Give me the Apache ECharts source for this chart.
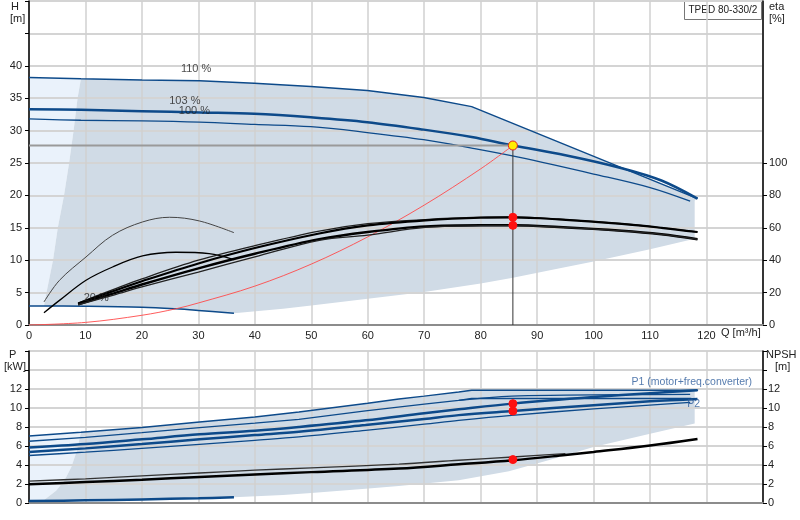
<!DOCTYPE html>
<html>
<head>
<meta charset="utf-8">
<script src="https://cdn.jsdelivr.net/npm/echarts@6/dist/echarts.min.js"></script>
<style>
  html, body { margin: 0; padding: 0; background: #fff; }
  #chart { width: 800px; height: 520px; }
</style>
</head>
<body>
<div id="chart"></div>
<script>
// tick labels
var qLabels = [0, 10, 20, 30, 40, 50, 60, 70, 80, 90, 100, 110, 120];
var hLabels = [0, 5, 10, 15, 20, 25, 30, 35, 40];
var etaLabels = [0, 20, 40, 60, 80, 100];
var pLabels = [0, 2, 4, 6, 8, 10, 12];

// Q-H curves [Q m3/h, H m]
var h110 = [[0, 38.2], [9.2, 38.0], [20, 37.8], [30.2, 37.7], [39.9, 37.3], [49.9, 36.8], [59.9, 36.2], [69.9, 35.1], [78.4, 33.7], [118.4, 19.5]];
var h103 = [[0, 33.3], [9.2, 33.2], [20, 33.0], [30.2, 32.8], [39.9, 32.6], [49.9, 32.05], [59.9, 31.3], [69.9, 30.15], [78.4, 29.0], [85.7, 27.7], [95, 26.2], [105, 24.2], [112, 22.3], [118.4, 19.5]];
var h100 = [[0, 31.8], [9.2, 31.6], [20, 31.5], [30.2, 31.3], [40, 30.95], [49.9, 30.6], [59.9, 29.7], [69.9, 28.6], [78.4, 27.3], [86.7, 25.9], [100, 23.3], [110, 21.2], [117.1, 19.1]];
var h20 = [[0, 2.95], [10, 2.9], [20, 2.75], [26, 2.5], [30, 2.25], [36.3, 1.8]];
var hSystem = [[0, 0], [10, 0.4], [20, 1.5], [26, 2.5], [30, 3.4], [40, 6.0], [50, 9.4], [60, 13.6], [70, 18.5], [80, 24.1], [85.7, 27.7]];

// efficiency curves [Q, eta %]
var etaLow1 = [[2.65, 14.2], [5.4, 27.6], [10.1, 42], [14.8, 55.4], [20.1, 63.6], [24.9, 66.5], [30.2, 64.2], [36.3, 57]];
var etaLow2 = [[2.65, 7.6], [5.4, 15.2], [10.1, 27.6], [14.8, 35.8], [20.1, 42.6], [26, 44.9], [31.9, 44.1], [36.3, 40.4]];
var etaA = [[8.7, 13.5], [15, 22], [20, 28.5], [30, 40], [40, 49], [51.4, 58], [60, 62.6], [70.2, 65.1], [80, 66.5], [85.7, 66.7], [93.8, 65.4], [105, 62.5], [112, 60], [118.4, 57.4]];
var etaB = [[8.7, 13.2], [15, 21], [20, 27], [30, 38], [40, 47.5], [51.4, 56.5], [60, 61.5], [70.2, 64.6], [80, 66.2], [85.7, 66.4], [93.8, 65.2], [105, 62.4], [112, 60], [118.4, 57.4]];
var etaC = [[8.7, 12.8], [15, 19.5], [20, 25], [30, 35], [40, 44], [51.4, 53], [60, 57.4], [70.2, 60.9], [80, 61.6], [85.7, 61.6], [93.8, 60.5], [105, 58.2], [112, 56], [118.4, 52.9]];
var etaD = [[8.7, 12.5], [15, 18.5], [20, 23.5], [30, 32.7], [40, 42], [51.4, 52.3], [60, 55.5], [70.2, 60.2], [80, 61.3], [85.7, 61.4], [93.8, 60.4], [105, 58.1], [112, 56], [118.4, 52.9]];

// shaded operating range, upper chart
var shadeLeftTop = [[2.65, 2.9], [3.1, 5], [4.25, 10], [5.1, 15], [6.2, 20], [7.1, 25], [7.9, 30], [8.6, 35], [9.2, 38.0]];
var shadeLowTop = [[36.3, 1.8], [45, 2.5], [50, 3.0], [60, 4.05], [70, 5.1], [80, 6.4], [85.7, 7.3], [93.8, 8.7], [100, 9.8], [110, 11.7], [117.9, 13.3]];

// power curves [Q, kW]
var p1_110 = [[0, 7.05], [9.2, 7.45], [20, 7.95], [30.2, 8.53], [40, 9.05], [47.8, 9.58], [60, 10.5], [65.5, 10.95], [70, 11.25], [76.1, 11.68], [78.4, 11.86], [118.5, 11.86]];
var p2_110 = [[0, 6.5], [10, 6.9], [20, 7.4], [30.2, 7.93], [40, 8.4], [47.8, 8.8], [59.6, 9.7], [70, 10.4], [76.1, 10.8], [78.4, 11.0], [117.3, 11.0]];
var p1_100 = [[76.1, 10.8], [85.5, 11.25], [95, 11.35], [105, 11.4], [117.1, 11.44]];
var p1_103 = [[0, 5.83], [10, 6.2], [20, 6.7], [30.2, 7.23], [40, 7.6], [47.8, 8.0], [59.6, 8.7], [70, 9.45], [76.1, 9.86], [85.7, 10.46], [100, 11.15], [110, 11.55], [118.4, 11.86]];
var p2_103 = [[0, 5.37], [10, 5.75], [20, 6.2], [30.2, 6.7], [40, 7.15], [47.8, 7.5], [59.6, 8.2], [70, 8.85], [76.1, 9.25], [85.7, 9.68], [100, 10.3], [110, 10.7], [118.4, 10.95]];
var p2_100 = [[0, 5.0], [10, 5.35], [20, 5.75], [30.2, 6.18], [40, 6.6], [47.8, 6.95], [59.6, 7.65], [70, 8.3], [76.1, 8.7], [85.5, 9.23], [100, 9.9], [117.1, 10.6]];
var p20 = [[0, 0.2], [10, 0.28], [20, 0.38], [30, 0.5], [36.3, 0.6]];

// NPSH curves [Q, m]
var npshA = [[0, 2.3], [10, 2.55], [20, 2.85], [30.2, 3.16], [40, 3.45], [50, 3.7], [65.5, 4.1], [76.1, 4.5], [85.7, 4.84], [95, 5.2]];
var npshB = [[0, 1.97], [10, 2.2], [20, 2.45], [30.2, 2.74], [40, 3.0], [50, 3.25], [65.5, 3.62], [76.1, 4.07], [85.7, 4.5], [95, 5.05], [100, 5.37], [110, 6.05], [118.4, 6.74]];

// shaded range, lower chart
var shadeLeftBot = [[2.5, 0.25], [4.8, 1.3], [6.3, 2.4], [7.5, 3.8], [8.5, 5.55], [9.2, 7.45]];
var shadeLowBot = [[36.3, 0.6], [45, 0.85], [50, 1.05], [59.6, 1.5], [65.5, 1.8], [76.1, 2.4], [85, 3.35], [92, 4.5], [100, 5.9], [110, 7.3], [117.9, 8.36]];

// duty point
var dutyQ = 85.7;
var dutyH = 27.7;
var dutyEta = [66.5, 61.5];
var dutyP = [10.46, 9.68];
var dutyNpsh = 4.57;

// curve captions [Q, value, text]
var topCaptions = [[29.6, 39.5, '110 %'], [27.6, 34.6, '103 %'], [29.3, 33.0, '100 %'], [11.9, 4.2, '20 %']];
var botCaptions = [[117.4, 12.74, 'P1 (motor+freq.converter)'], [117.7, 10.36, 'P2']];

var BLUE = '#0d4a8a';
var FONT = 'Liberation Sans';
var FS = 11;

function rev(a) { return a.slice().reverse(); }

var lightTop = [[0, 2.95], [0, 38.2]].concat(rev(shadeLeftTop));
var darkTop = shadeLeftTop
  .concat(h110.slice(2))
  .concat([[117.9, 19.2]])
  .concat(rev(shadeLowTop))
  .concat(rev(h20.slice(1, 5)));
var lightBot = [[0, 0], [0, 7.05]].concat(rev(shadeLeftBot)).concat([[2.5, 0]]);
var darkBot = shadeLeftBot
  .concat(p1_110.slice(2, 11))
  .concat([[117.9, 11.86]])
  .concat(rev(shadeLowBot))
  .concat(rev(p20.slice(1, 4)));

function poly(pts, color, xi, yi) {
  return {
    type: 'custom', xAxisIndex: xi, yAxisIndex: yi, z: 0, silent: true,
    data: [pts[0]],
    renderItem: function (params, api) {
      return {
        type: 'polygon',
        shape: { points: pts.map(function (p) { return api.coord(p); }) },
        style: { fill: color }
      };
    }
  };
}

function line(data, color, width, xi, yi, smooth) {
  return {
    type: 'line', data: data, xAxisIndex: xi, yAxisIndex: yi,
    symbol: 'none', smooth: smooth === undefined ? 0.35 : smooth,
    lineStyle: { color: color, width: width }, z: 3, silent: true
  };
}

function captions(data, color, xi, yi, fs) {
  return {
    type: 'scatter', data: data, xAxisIndex: xi, yAxisIndex: yi, symbolSize: 0, z: 6, silent: true,
    label: {
      show: true, position: 'inside', color: color, fontFamily: FONT, fontSize: fs,
      formatter: function (p) { return p.data[2]; }
    }
  };
}

function dots(data, xi, yi, size, fill, border) {
  return {
    type: 'scatter', data: data, xAxisIndex: xi, yAxisIndex: yi, symbolSize: size, z: 8, silent: true,
    itemStyle: { color: fill, borderColor: border, borderWidth: 1, opacity: 1 }
  };
}

var labelStyle = { color: '#222', fontFamily: FONT, fontSize: FS };
var txt = FS + 'px ' + FONT;

var myChart = echarts.init(document.getElementById('chart'), null, { renderer: 'canvas' });
var option = {
  animation: false,
  backgroundColor: '#fff',
  grid: [
    { left: 29, top: 1, width: 734, height: 324, show: true, borderColor: '#a8a8a8', borderWidth: 1, backgroundColor: 'transparent' },
    { left: 29, top: 351, width: 734, height: 152, show: true, borderColor: '#a8a8a8', borderWidth: 1, backgroundColor: 'transparent' }
  ],
  xAxis: [
    {
      gridIndex: 0, type: 'value', min: 0, max: 130, interval: 10, z: 1,
      axisLine: { lineStyle: { color: '#8c8c8c', width: 2 } },
      axisTick: { show: false },
      axisLabel: Object.assign({ margin: 5, formatter: function (v) { return qLabels.indexOf(v) >= 0 ? v : ''; } }, labelStyle),
      splitLine: { lineStyle: { color: '#d0d0d0', width: 1.5 } }
    },
    {
      gridIndex: 1, type: 'value', min: 0, max: 130, interval: 10, z: 1,
      axisLine: { lineStyle: { color: '#8c8c8c', width: 2 } },
      axisTick: { show: false },
      axisLabel: { show: false },
      splitLine: { lineStyle: { color: '#d0d0d0', width: 1.5 } }
    }
  ],
  yAxis: [
    {
      gridIndex: 0, type: 'value', min: 0, max: 50, interval: 5, position: 'left', z: 1,
      axisLine: { show: true, lineStyle: { color: '#000', width: 1.5 } },
      axisTick: { show: true, length: 4, lineStyle: { color: '#000' } },
      axisLabel: Object.assign({ margin: 7, formatter: function (v) { return hLabels.indexOf(v) >= 0 ? v : ''; } }, labelStyle),
      splitLine: { lineStyle: { color: '#d4d4d4', width: 2 } }
    },
    {
      gridIndex: 0, type: 'value', min: 0, max: 200, interval: 20, position: 'right', z: 1,
      axisLine: { show: true, lineStyle: { color: '#000', width: 1.5 } },
      axisTick: { show: true, length: 4, customValues: etaLabels, lineStyle: { color: '#000' } },
      axisLabel: Object.assign({ margin: 6, customValues: etaLabels, formatter: function (v) { return etaLabels.indexOf(v) >= 0 ? v : ''; } }, labelStyle),
      splitLine: { show: false }
    },
    {
      gridIndex: 1, type: 'value', min: 0, max: 16, interval: 2, position: 'left', z: 1,
      axisLine: { show: true, lineStyle: { color: '#000', width: 1.5 } },
      axisTick: { show: true, length: 4, lineStyle: { color: '#000' } },
      axisLabel: Object.assign({ margin: 7, formatter: function (v) { return pLabels.indexOf(v) >= 0 ? v : ''; } }, labelStyle),
      splitLine: { lineStyle: { color: '#d4d4d4', width: 2 } }
    },
    {
      gridIndex: 1, type: 'value', min: 0, max: 16, interval: 2, position: 'right', z: 1,
      axisLine: { show: true, lineStyle: { color: '#000', width: 1.5 } },
      axisTick: { show: true, length: 4, lineStyle: { color: '#000' } },
      axisLabel: Object.assign({ margin: 5, formatter: function (v) { return pLabels.indexOf(v) >= 0 ? v : ''; } }, labelStyle),
      splitLine: { show: false }
    }
  ],
  graphic: [
    { type: 'text', left: 11, top: 1, style: { text: 'H', font: txt, fill: '#222' } },
    { type: 'text', left: 10, top: 13, style: { text: '[m]', font: txt, fill: '#222' } },
    { type: 'text', left: 769, top: 1, style: { text: 'eta', font: txt, fill: '#222' } },
    { type: 'text', left: 769, top: 13, style: { text: '[%]', font: txt, fill: '#222' } },
    { type: 'text', left: 721, top: 327, style: { text: 'Q [m\u00b3/h]', font: txt, fill: '#222' } },
    { type: 'text', left: 9, top: 349, style: { text: 'P', font: txt, fill: '#222' } },
    { type: 'text', left: 4, top: 361, style: { text: '[kW]', font: txt, fill: '#222' } },
    { type: 'text', left: 766, top: 349, style: { text: 'NPSH', font: txt, fill: '#222' } },
    { type: 'text', left: 775, top: 361, style: { text: '[m]', font: txt, fill: '#222' } },
    {
      type: 'group', left: 684, top: 0, z: 100,
      children: [
        { type: 'rect', shape: { x: 0, y: 0, width: 77, height: 19 }, style: { fill: '#fff', stroke: '#777', lineWidth: 1 } },
        { type: 'text', x: 4, y: 4.5, style: { text: 'TPED 80-330/2', font: '10px ' + FONT, fill: '#222' } }
      ]
    }
  ],
  series: [
    poly(lightTop, '#eaf2fb', 0, 0),
    poly(darkTop, '#d0dbe6', 0, 0),
    poly(lightBot, '#eaf2fb', 1, 2),
    poly(darkBot, '#d0dbe6', 1, 2),

    // Q-H
    line(h110, BLUE, 1.5, 0, 0, false),
    line(h103, BLUE, 2.5, 0, 0),
    line(h100, BLUE, 1.3, 0, 0),
    line(h20, BLUE, 1.5, 0, 0),
    line(hSystem, '#ff4a4a', 0.9, 0, 0),
    line([[0, dutyH], [dutyQ, dutyH]], '#9a9a9a', 2, 0, 0, false),
    line([[dutyQ, dutyH], [dutyQ, 0]], '#333', 1, 0, 0, false),

    // eta
    line(etaLow1, '#444', 1, 0, 1),
    line(etaLow2, '#000', 1.3, 0, 1),
    line(etaA, '#222', 1.3, 0, 1),
    line(etaB, '#000', 2.2, 0, 1),
    line(etaC, '#000', 2.4, 0, 1),
    line(etaD, '#222', 1.3, 0, 1),

    // power
    line(p1_110, BLUE, 1.5, 1, 2, false),
    line(p2_110, BLUE, 1.3, 1, 2, false),
    line(p1_100, BLUE, 1.3, 1, 2),
    line(p1_103, BLUE, 2.5, 1, 2),
    line(p2_103, BLUE, 2.5, 1, 2),
    line(p2_100, BLUE, 1.3, 1, 2),
    line(p20, BLUE, 2.5, 1, 2),

    // NPSH
    line(npshA, '#333', 1.3, 1, 3),
    line(npshB, '#000', 2.5, 1, 3),

    captions(topCaptions, '#222', 0, 0, FS),
    captions(botCaptions, '#2a5a9a', 1, 2, 10.5),

    dots([[dutyQ, dutyEta[0]], [dutyQ, dutyEta[1]]], 0, 1, 8, '#ff1010', '#ff1010'),
    dots([[dutyQ, dutyH]], 0, 0, 9, '#ffee00', '#e02020'),
    dots([[dutyQ, dutyP[0]], [dutyQ, dutyP[1]]], 1, 2, 8, '#ff1010', '#ff1010'),
    dots([[dutyQ, dutyNpsh]], 1, 3, 8, '#ff1010', '#ff1010')
  ]
};
myChart.setOption(option);
</script>
</body>
</html>
